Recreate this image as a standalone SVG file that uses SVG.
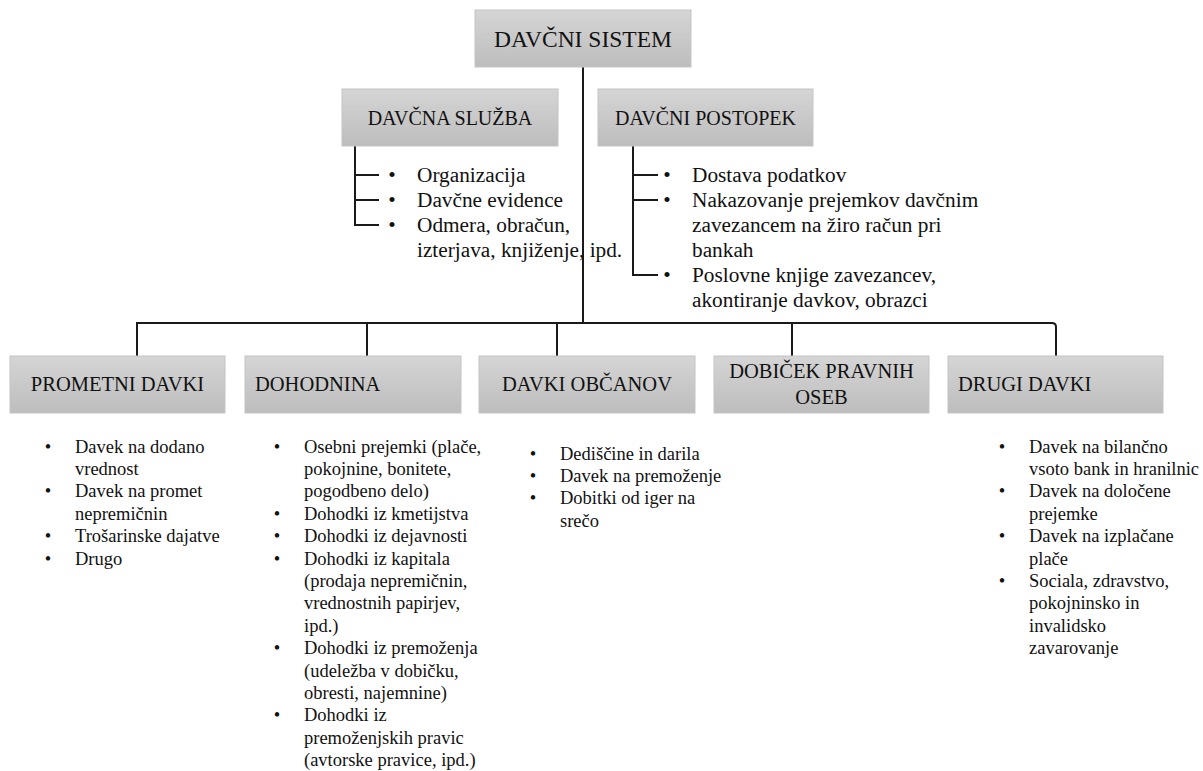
<svg xmlns="http://www.w3.org/2000/svg" width="1203" height="771" viewBox="0 0 1203 771">
<defs>
<linearGradient id="g" x1="0" y1="0" x2="0" y2="1">
<stop offset="0" stop-color="#d5d5d5"/>
<stop offset="1" stop-color="#bdbdbd"/>
</linearGradient>
<style>
.box{fill:url(#g);stroke:#c4c4c4;stroke-width:1}
.ln{fill:none;stroke:#1a1a1a;stroke-width:2}
</style>
</defs>
<rect width="1203" height="771" fill="#fff"/>
<g id="connectors">
<path class="ln" d="M583 67V323"/>
<path class="ln" d="M137 356V323H1052Q1056 323 1056 327V356"/>
<path class="ln" d="M367 323V356M557 323V356M792 323V356"/>
<path class="ln" d="M355 146V225H379M355 175H379M355 200H379"/>
<path class="ln" d="M633 146V275H658M633 175H658M633 200H658"/>
</g>
<g id="n-davcni-sistem" font-family="Liberation Serif, serif" fill="#111">
<rect class="box" x="475" y="10" width="216" height="57"/>
<text font-size="23.5" x="583" y="47" text-anchor="middle">DAVČNI SISTEM</text>
</g>
<g id="n-davcna-sluzba" font-family="Liberation Serif, serif" fill="#111">
<rect class="box" x="342" y="89" width="216" height="57"/>
<text font-size="20" x="450" y="124.5" text-anchor="middle">DAVČNA SLUŽBA</text>
</g>
<g id="n-davcni-postopek" font-family="Liberation Serif, serif" fill="#111">
<rect class="box" x="598" y="89" width="215" height="57"/>
<text font-size="20" x="705.5" y="124.5" text-anchor="middle">DAVČNI POSTOPEK</text>
</g>
<g id="n-prometni" font-family="Liberation Serif, serif" fill="#111">
<rect class="box" x="10" y="356" width="215" height="57"/>
<text font-size="20.5" x="117.5" y="391" text-anchor="middle">PROMETNI DAVKI</text>
</g>
<g id="n-dohodnina" font-family="Liberation Serif, serif" fill="#111">
<rect class="box" x="245" y="356" width="216" height="57"/>
<text font-size="20.5" x="255" y="391">DOHODNINA</text>
</g>
<g id="n-obcanov" font-family="Liberation Serif, serif" fill="#111">
<rect class="box" x="479" y="356" width="216" height="57"/>
<text font-size="20.5" x="587" y="391" text-anchor="middle">DAVKI OBČANOV</text>
</g>
<g id="n-dobicek" font-family="Liberation Serif, serif" fill="#111">
<rect class="box" x="714" y="356" width="215" height="57"/>
<text font-size="20.5" x="821.5" y="378" text-anchor="middle">DOBIČEK PRAVNIH</text>
<text font-size="20.5" x="821.5" y="404" text-anchor="middle">OSEB</text>
</g>
<g id="n-drugi" font-family="Liberation Serif, serif" fill="#111">
<rect class="box" x="948" y="356" width="215" height="57"/>
<text font-size="20.5" x="958" y="391">DRUGI DAVKI</text>
</g>
<g id="list-sluzba" font-family="Liberation Serif, serif" fill="#111" font-size="21.3">
<text x="392" y="182" text-anchor="middle">•</text>
<text x="392" y="207" text-anchor="middle">•</text>
<text x="392" y="232" text-anchor="middle">•</text>
<text x="417" y="182">Organizacija</text>
<text x="417" y="207">Davčne evidence</text>
<text x="417" y="232">Odmera, obračun,</text>
<text x="417" y="257">izterjava, knjiženje, ipd.</text>
</g>
<g id="list-postopek" font-family="Liberation Serif, serif" fill="#111" font-size="21.3">
<text x="667" y="182" text-anchor="middle">•</text>
<text x="667" y="207" text-anchor="middle">•</text>
<text x="667" y="282" text-anchor="middle">•</text>
<text x="692" y="182">Dostava podatkov</text>
<text x="692" y="207">Nakazovanje prejemkov davčnim</text>
<text x="692" y="232">zavezancem na žiro račun pri</text>
<text x="692" y="257">bankah</text>
<text x="692" y="282">Poslovne knjige zavezancev,</text>
<text x="692" y="307">akontiranje davkov, obrazci</text>
</g>
<g id="list-prometni" font-family="Liberation Serif, serif" fill="#111" font-size="18.5">
<text x="48" y="452.5" text-anchor="middle">•</text>
<text x="48" y="497.3" text-anchor="middle">•</text>
<text x="48" y="542.1" text-anchor="middle">•</text>
<text x="48" y="564.5" text-anchor="middle">•</text>
<text x="75" y="452.5">Davek na dodano</text>
<text x="75" y="474.9">vrednost</text>
<text x="75" y="497.3">Davek na promet</text>
<text x="75" y="519.7">nepremičnin</text>
<text x="75" y="542.1">Trošarinske dajatve</text>
<text x="75" y="564.5">Drugo</text>
</g>
<g id="list-dohodnina" font-family="Liberation Serif, serif" fill="#111" font-size="18.5">
<text x="277" y="452.5" text-anchor="middle">•</text>
<text x="277" y="519.7" text-anchor="middle">•</text>
<text x="277" y="542.1" text-anchor="middle">•</text>
<text x="277" y="564.5" text-anchor="middle">•</text>
<text x="277" y="654.1" text-anchor="middle">•</text>
<text x="277" y="721.3" text-anchor="middle">•</text>
<text x="304" y="452.5">Osebni prejemki (plače,</text>
<text x="304" y="474.9">pokojnine, bonitete,</text>
<text x="304" y="497.3">pogodbeno delo)</text>
<text x="304" y="519.7">Dohodki iz kmetijstva</text>
<text x="304" y="542.1">Dohodki iz dejavnosti</text>
<text x="304" y="564.5">Dohodki iz kapitala</text>
<text x="304" y="586.9">(prodaja nepremičnin,</text>
<text x="304" y="609.3">vrednostnih papirjev,</text>
<text x="304" y="631.7">ipd.)</text>
<text x="304" y="654.1">Dohodki iz premoženja</text>
<text x="304" y="676.5">(udeležba v dobičku,</text>
<text x="304" y="698.9">obresti, najemnine)</text>
<text x="304" y="721.3">Dohodki iz</text>
<text x="304" y="743.7">premoženjskih pravic</text>
<text x="304" y="766.1">(avtorske pravice, ipd.)</text>
</g>
<g id="list-obcanov" font-family="Liberation Serif, serif" fill="#111" font-size="18.5">
<text x="533" y="459.5" text-anchor="middle">•</text>
<text x="533" y="481.9" text-anchor="middle">•</text>
<text x="533" y="504.3" text-anchor="middle">•</text>
<text x="560" y="459.5">Dediščine in darila</text>
<text x="560" y="481.9">Davek na premoženje</text>
<text x="560" y="504.3">Dobitki od iger na</text>
<text x="560" y="526.7">srečo</text>
</g>
<g id="list-drugi" font-family="Liberation Serif, serif" fill="#111" font-size="18.5">
<text x="1002" y="452.5" text-anchor="middle">•</text>
<text x="1002" y="497.3" text-anchor="middle">•</text>
<text x="1002" y="542.1" text-anchor="middle">•</text>
<text x="1002" y="586.9" text-anchor="middle">•</text>
<text x="1029" y="452.5">Davek na bilančno</text>
<text x="1029" y="474.9">vsoto bank in hranilnic</text>
<text x="1029" y="497.3">Davek na določene</text>
<text x="1029" y="519.7">prejemke</text>
<text x="1029" y="542.1">Davek na izplačane</text>
<text x="1029" y="564.5">plače</text>
<text x="1029" y="586.9">Sociala, zdravstvo,</text>
<text x="1029" y="609.3">pokojninsko in</text>
<text x="1029" y="631.7">invalidsko</text>
<text x="1029" y="654.1">zavarovanje</text>
</g>
</svg>
